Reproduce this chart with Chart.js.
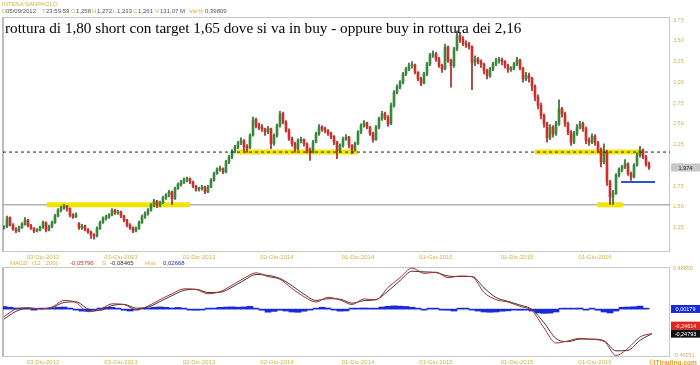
<!DOCTYPE html>
<html>
<head>
<meta charset="utf-8">
<script src="https://cdn.jsdelivr.net/npm/chart.js@4.4.0/dist/chart.umd.min.js"></script>
<style>
  body { margin: 0; width: 700px; height: 365px; background: #fff; position: relative; overflow: hidden; font-family: "Liberation Sans", Arial, sans-serif; }
  canvas { position: absolute; left: 0; }
  #priceChart { top: 0; }
  #macdChart { top: 257px; }
  .t { position: absolute; font-size: 6px; line-height: 1; white-space: nowrap; }
  .g { color: #d2b24c; }
  .d { color: #555; }
  #title { position: absolute; left: 5px; top: 20px; font-family: "Liberation Serif", "Times New Roman", serif; font-size: 15.2px; line-height: 15.2px; color: #000; white-space: nowrap; }
  #copy { position: absolute; left: 649px; top: 359px; font-size: 6.5px; font-weight: bold; color: #e0a030; white-space: nowrap; }
</style>
</head>
<body>
<canvas id="priceChart" width="700" height="262"></canvas>
<canvas id="macdChart" width="700" height="108"></canvas>

<div class="t g" style="left:2px;top:1px;">INTESA SANPAOLO</div>
<div class="t g" style="left:2px;top:8px;">D</div><div class="t d" style="left:6px;top:8px;">05/09/2012</div>
<div class="t g" style="left:42px;top:8px;">T</div><div class="t d" style="left:46px;top:8px;">23:59:59</div>
<div class="t g" style="left:71px;top:8px;">O</div><div class="t d" style="left:76px;top:8px;">1,258</div>
<div class="t g" style="left:92px;top:8px;">H</div><div class="t d" style="left:97px;top:8px;">1,272</div>
<div class="t g" style="left:113px;top:8px;">L</div><div class="t d" style="left:117px;top:8px;">1,233</div>
<div class="t g" style="left:133px;top:8px;">C</div><div class="t d" style="left:138px;top:8px;">1,261</div>
<div class="t g" style="left:155px;top:8px;">V</div><div class="t d" style="left:160px;top:8px;">131,07 M</div>
<div class="t g" style="left:189px;top:8px;">Var%</div><div class="t d" style="left:205px;top:8px;">0,39809</div>

<div id="title">rottura di 1,80 short con target 1,65 dove si va in buy - oppure buy in rottura dei 2,16</div>

<div class="t g" style="left:10px;top:260px;">MACD</div>
<div class="t g" style="left:32px;top:260px;">(12 , 200)</div>
<div class="t" style="left:70px;top:260px;color:#c83030;">-0,05796</div>
<div class="t g" style="left:102px;top:260px;">S</div>
<div class="t" style="left:110px;top:260px;color:#333;">-0,08465</div>
<div class="t g" style="left:145px;top:260px;">Hist</div>
<div class="t" style="left:163px;top:260px;color:#2030a0;">0,02668</div>
<div id="copy">©ITtrading.com</div>

<script>
// weekly candles from 03-Sep-2012, index = week number
const opens = [
  1.258,1.26,1.37,1.28,1.23,1.21,1.25,1.29,1.34,1.27,
  1.24,1.21,1.22,1.25,1.31,1.22,1.26,1.31,1.39,1.46,
  1.49,1.51,1.48,1.40,1.38,1.30,1.25,1.27,1.23,1.20,
  1.16,1.15,1.24,1.31,1.36,1.38,1.40,1.46,1.43,1.44,
  1.39,1.34,1.28,1.25,1.21,1.24,1.31,1.38,1.42,1.46,
  1.52,1.57,1.52,1.55,1.61,1.64,1.68,1.60,1.72,1.77,
  1.80,1.83,1.84,1.80,1.75,1.71,1.72,1.74,1.68,1.74,
  1.82,1.90,1.95,1.96,1.92,2.04,2.10,2.17,2.22,2.27,
  2.30,2.22,2.21,2.36,2.55,2.48,2.46,2.44,2.40,2.44,
  2.26,2.36,2.48,2.62,2.52,2.42,2.32,2.26,2.20,2.30,
  2.31,2.26,2.18,2.16,2.28,2.38,2.46,2.44,2.42,2.39,
  2.35,2.28,2.18,2.24,2.32,2.34,2.24,2.19,2.26,2.40,
  2.48,2.51,2.46,2.38,2.31,2.46,2.56,2.62,2.58,2.50,
  2.72,2.88,2.94,3.00,3.10,3.16,3.20,3.21,3.12,3.04,
  2.99,3.10,3.22,3.33,3.34,3.28,3.20,3.16,3.42,3.26,
  3.20,3.40,3.56,3.52,3.47,3.45,3.43,3.24,3.28,3.25,
  3.22,3.14,3.08,3.16,3.22,3.26,3.27,3.25,3.20,3.15,
  3.17,3.22,3.27,3.17,3.04,3.08,3.05,2.95,2.82,2.72,
  2.60,2.50,2.33,2.46,2.38,2.50,2.68,2.62,2.50,2.40,
  2.28,2.38,2.46,2.50,2.44,2.30,2.28,2.35,2.27,2.19,
  2.04,2.16,1.80,1.62,1.66,1.88,1.95,1.98,2.02,1.90,
  1.86,2.00,2.12,2.18,2.10,2.02
];
const highs = [
  1.272,1.39,1.38,1.30,1.25,1.27,1.31,1.37,1.35,1.29,
  1.25,1.24,1.27,1.33,1.32,1.28,1.33,1.41,1.48,1.51,
  1.53,1.52,1.49,1.42,1.43,1.31,1.29,1.28,1.24,1.21,
  1.18,1.26,1.33,1.38,1.40,1.42,1.48,1.47,1.46,1.45,
  1.40,1.35,1.30,1.26,1.26,1.33,1.40,1.44,1.48,1.54,
  1.59,1.58,1.57,1.63,1.66,1.70,1.69,1.74,1.79,1.82,
  1.85,1.86,1.85,1.81,1.76,1.74,1.76,1.75,1.76,1.84,
  1.92,1.97,1.99,1.97,2.06,2.12,2.19,2.24,2.29,2.33,
  2.31,2.25,2.38,2.58,2.57,2.51,2.49,2.45,2.47,2.45,
  2.38,2.50,2.65,2.64,2.54,2.44,2.34,2.28,2.32,2.34,
  2.32,2.27,2.21,2.30,2.40,2.49,2.48,2.46,2.43,2.40,
  2.36,2.29,2.26,2.34,2.37,2.35,2.25,2.28,2.42,2.50,
  2.54,2.52,2.47,2.40,2.48,2.58,2.65,2.64,2.60,2.75,
  2.90,2.97,3.02,3.12,3.18,3.23,3.25,3.22,3.13,3.06,
  3.12,3.24,3.35,3.38,3.36,3.30,3.22,3.46,3.44,3.28,
  3.42,3.62,3.60,3.55,3.50,3.48,3.44,3.32,3.30,3.27,
  3.23,3.16,3.18,3.24,3.29,3.30,3.29,3.26,3.22,3.19,
  3.24,3.30,3.28,3.18,3.12,3.11,3.06,2.97,2.85,2.75,
  2.62,2.52,2.49,2.48,2.53,2.79,2.70,2.64,2.52,2.42,
  2.41,2.49,2.53,2.52,2.46,2.33,2.38,2.37,2.29,2.21,
  2.26,2.18,1.82,1.70,1.90,1.97,2.00,2.07,2.03,1.92,
  2.02,2.15,2.23,2.20,2.12,2.04
];
const lows = [
  1.233,1.25,1.27,1.22,1.19,1.20,1.24,1.28,1.26,1.23,
  1.19,1.20,1.21,1.24,1.20,1.21,1.25,1.30,1.38,1.44,
  1.47,1.45,1.38,1.36,1.37,1.23,1.23,1.21,1.18,1.12,
  1.11,1.14,1.23,1.30,1.34,1.36,1.39,1.41,1.41,1.37,
  1.32,1.26,1.23,1.19,1.20,1.23,1.30,1.36,1.40,1.45,
  1.50,1.49,1.50,1.54,1.59,1.62,1.53,1.59,1.71,1.75,
  1.78,1.80,1.78,1.73,1.69,1.69,1.70,1.66,1.67,1.73,
  1.81,1.89,1.93,1.90,1.91,2.02,2.08,2.15,2.20,2.25,
  2.17,2.16,2.20,2.35,2.45,2.43,2.41,2.36,2.38,2.20,
  2.24,2.34,2.46,2.50,2.40,2.30,2.23,2.16,2.18,2.27,
  2.23,2.15,2.06,2.15,2.27,2.36,2.41,2.39,2.36,2.32,
  2.25,2.08,2.16,2.22,2.30,2.21,2.14,2.17,2.25,2.38,
  2.46,2.44,2.36,2.28,2.30,2.44,2.54,2.55,2.47,2.49,
  2.70,2.86,2.92,2.98,3.08,3.14,3.17,3.10,3.02,2.96,
  2.98,3.08,3.20,3.30,3.25,3.18,3.12,3.15,3.24,2.94,
  3.18,3.38,3.48,3.44,3.42,3.40,2.91,3.20,3.22,3.18,
  3.10,3.04,3.06,3.14,3.20,3.23,3.21,3.17,3.12,3.13,
  3.15,3.20,3.15,3.00,3.02,3.00,2.90,2.78,2.68,2.56,
  2.46,2.28,2.31,2.34,2.36,2.48,2.58,2.47,2.37,2.24,
  2.26,2.36,2.44,2.41,2.26,2.24,2.26,2.24,2.16,1.98,
  2.02,1.76,1.53,1.53,1.65,1.86,1.92,1.96,1.88,1.82,
  1.85,1.99,2.10,2.08,1.99,1.95
];
const closes = [
  1.261,1.37,1.28,1.23,1.21,1.25,1.29,1.34,1.27,1.24,
  1.21,1.22,1.25,1.31,1.22,1.26,1.31,1.39,1.46,1.49,
  1.51,1.48,1.40,1.38,1.41,1.25,1.27,1.23,1.20,1.16,
  1.15,1.24,1.31,1.36,1.38,1.40,1.46,1.43,1.44,1.39,
  1.34,1.28,1.25,1.21,1.24,1.31,1.38,1.42,1.46,1.52,
  1.57,1.52,1.55,1.61,1.64,1.68,1.60,1.72,1.77,1.80,
  1.83,1.84,1.80,1.75,1.71,1.72,1.74,1.68,1.74,1.82,
  1.90,1.95,1.96,1.92,2.04,2.10,2.17,2.22,2.27,2.30,
  2.22,2.21,2.36,2.55,2.48,2.46,2.44,2.40,2.44,2.26,
  2.36,2.48,2.62,2.52,2.42,2.32,2.26,2.20,2.30,2.31,
  2.26,2.18,2.16,2.28,2.38,2.46,2.44,2.42,2.39,2.35,
  2.28,2.18,2.24,2.32,2.34,2.24,2.19,2.26,2.40,2.48,
  2.51,2.46,2.38,2.31,2.46,2.56,2.62,2.58,2.50,2.72,
  2.88,2.94,3.00,3.10,3.16,3.20,3.21,3.12,3.04,2.99,
  3.10,3.22,3.33,3.34,3.28,3.20,3.16,3.42,3.26,3.20,
  3.40,3.56,3.52,3.47,3.45,3.43,3.24,3.28,3.25,3.22,
  3.14,3.08,3.16,3.22,3.26,3.27,3.25,3.20,3.15,3.17,
  3.22,3.27,3.17,3.04,3.08,3.05,2.95,2.82,2.72,2.60,
  2.50,2.33,2.46,2.38,2.50,2.68,2.62,2.50,2.40,2.28,
  2.38,2.46,2.50,2.44,2.30,2.28,2.35,2.27,2.19,2.04,
  2.16,1.80,1.62,1.66,1.88,1.95,1.98,2.02,1.90,1.86,
  2.00,2.12,2.18,2.10,2.02,1.974
];

// date labels and the week where each one falls
const dateLabels = ['03-Dic-2012', '03-Giu-2013', '02-Dic-2013', '02-Giu-2014', '01-Dic-2014', '01-Giu-2015', '01-Dic-2015', '01-Giu-2016'];
const labelWeeks = [13, 39, 65, 91, 118, 144, 171, 197];
const priceTicks = [1.25, 1.5, 1.75, 2.0, 2.25, 2.5, 2.75, 3.0, 3.25, 3.5, 3.75];

// drawn levels
const resistance = 2.16;
const support = 1.525;
const bandLevels = [1.525, 2.16, 2.16, 1.525];
const bandStarts = [14.3, 77.7, 177, 197.7];
const bandEnds = [62, 118, 213.3, 206.3];
const targetLevel = 1.80;
const targetStart = 205.7;
const targetEnd = 217;

// MACD (12, 200) and signal 9, one value every 4 weeks
const macdStep = 4;
const macdLine = [
  -0.058,0.029,0.043,0.029,0.051,0.124,0.102,-0.002,0.020,0.087,
  0.079,0.021,0.062,0.134,0.199,0.255,0.248,0.200,0.223,0.295,
  0.373,0.435,0.393,0.362,0.259,0.167,0.107,0.160,0.130,0.079,
  0.141,0.132,0.270,0.380,0.4885,0.428,0.442,0.380,0.399,0.391,
  0.214,0.134,0.107,0.058,0.010,-0.184,-0.353,-0.330,-0.300,-0.313,
  -0.334,-0.49251,-0.412,-0.285,-0.24614
];
const signalLine = [
  -0.085,0.002,0.039,0.033,0.044,0.102,0.109,0.029,0.013,0.067,
  0.081,0.038,0.050,0.112,0.179,0.238,0.250,0.214,0.216,0.273,
  0.350,0.416,0.406,0.371,0.290,0.195,0.125,0.144,0.139,0.094,
  0.122,0.135,0.229,0.347,0.453,0.445,0.438,0.399,0.393,0.393,
  0.267,0.158,0.115,0.073,0.024,-0.126,-0.302,-0.337,-0.309,-0.309,
  -0.328,-0.441,-0.435,-0.323,-0.24793
];
// histogram, one bar every 2 weeks
const histStep = 2;
const histValues = [
  0.027,0.02,0.012,0.009,0.002,-0.008,0.003,0.01,0.012,0.02,
  0.022,0.011,-0.01,-0.021,-0.022,-0.009,0.011,0.02,0.019,0.008,
  -0.012,-0.02,-0.01,0.009,0.013,0.02,0.023,0.019,0.012,0.018,
  0.01,-0.01,-0.012,-0.008,0.002,0.011,0.019,0.022,0.024,0.02,
  0.023,0.03,0.01,-0.012,-0.032,-0.024,-0.012,-0.02,-0.03,-0.033,
  -0.022,-0.01,0.01,0.02,0.012,-0.01,-0.021,-0.019,0.002,0.009,
  0.012,0.003,0.01,0.022,0.03,0.034,0.031,0.028,0.02,0.01,
  -0.008,0.01,0.002,-0.01,-0.012,-0.02,0.01,0.011,-0.008,-0.02,
  -0.03,-0.033,-0.03,-0.022,-0.018,-0.01,-0.012,-0.008,-0.02,-0.04,
  -0.044,-0.042,-0.03,0.01,0.003,0.01,0.012,-0.01,0.01,-0.012,
  -0.03,-0.04,-0.02,0.02,0.022,0.025,0.032,0.00179
];

const gold = '#d2b24c';
const tickFont = { family: '"Liberation Sans", Arial, sans-serif', size: 5.5 };
const dateFont = { family: '"Liberation Sans", Arial, sans-serif', size: 6 };
const xMin = -0.33;
const xMax = 222;

function comma(v, d) {
  return v.toFixed(d).replace('.', ',');
}

const candleColors = closes.map((c, i) => c >= opens[i] ? '#38893a' : '#cf2e2a');
const wickColors = closes.map((c, i) => c >= opens[i] ? '#2f6a30' : '#9c2a26');

function xAxis(h) {
  return {
    type: 'linear',
    min: xMin,
    max: xMax,
    offset: false,
    grid: { display: false, drawTicks: false },
    border: { display: false },
    afterBuildTicks: s => { s.ticks = labelWeeks.map(v => ({ value: v })); },
    afterFit: s => { s.height = h; },
    ticks: {
      autoSkip: false,
      maxRotation: 0,
      padding: 2,
      color: gold,
      font: dateFont,
      callback: v => dateLabels[labelWeeks.indexOf(v)]
    }
  };
}

const panelBox = {
  id: 'panelBox',
  beforeDatasetsDraw(chart) {
    const a = chart.chartArea;
    const ctx = chart.ctx;
    ctx.save();
    ctx.strokeStyle = '#c8c8c8';
    ctx.lineWidth = 1;
    ctx.strokeRect(a.left + 0.5, a.top + 0.5, a.width - 1, a.height - 1);
    ctx.fillStyle = '#bcbcbc';
    ctx.fillRect(a.left - 1, a.top, 2, a.height);
    ctx.restore();
  }
};

function valueBox(ctx, x, y, text, bg, fg) {
  ctx.fillStyle = bg;
  ctx.fillRect(x, y - 4, 700 - x, 8);
  ctx.fillStyle = fg;
  ctx.textAlign = 'center';
  ctx.textBaseline = 'middle';
  ctx.fillText(text, x + (700 - x) / 2, y + 0.5);
}

const lastPrice = {
  id: 'lastPrice',
  afterDraw(chart) {
    const ctx = chart.ctx;
    const y = chart.scales.y.getPixelForValue(closes[closes.length - 1]);
    ctx.save();
    ctx.font = '5.5px "Liberation Sans", Arial, sans-serif';
    valueBox(ctx, chart.chartArea.right + 1, y, comma(closes[closes.length - 1], 3), '#c8c8c8', '#222');
    ctx.restore();
  }
};

const bodyData = opens.map((o, i) => ({ x: i, y: [o, closes[i]] }));
const wickData = highs.map((h, i) => ({ x: i, y: [lows[i], h] }));

const priceDatasets = [
  {
    type: 'line',
    data: [{ x: xMin, y: resistance }, { x: xMax, y: resistance }],
    borderColor: '#222',
    borderWidth: 1,
    borderDash: [3, 3],
    pointRadius: 0,
    order: 1
  },
  {
    type: 'line',
    data: [{ x: targetStart, y: targetLevel }, { x: targetEnd, y: targetLevel }],
    borderColor: '#2a55cc',
    borderWidth: 2,
    pointRadius: 0,
    order: 1
  },
  {
    type: 'bar',
    data: bodyData,
    backgroundColor: candleColors,
    barThickness: 2,
    grouped: false,
    minBarLength: 1,
    order: 2
  },
  {
    type: 'bar',
    data: wickData,
    backgroundColor: wickColors,
    barThickness: 1,
    grouped: false,
    order: 3
  },
  {
    type: 'line',
    data: [{ x: xMin, y: support }, { x: xMax, y: support }],
    borderColor: '#8c8c8c',
    borderWidth: 1,
    pointRadius: 0,
    order: 6
  }
];
bandLevels.forEach((lv, i) => {
  priceDatasets.push({
    type: 'line',
    data: [{ x: bandStarts[i], y: lv }, { x: bandEnds[i], y: lv }],
    borderColor: '#f2e400',
    borderWidth: 5,
    borderCapStyle: 'butt',
    pointRadius: 0,
    order: 4
  });
});

new Chart(document.getElementById('priceChart'), {
  type: 'bar',
  data: { datasets: priceDatasets },
  options: {
    responsive: false,
    animation: false,
    layout: { padding: { left: 3, top: 17, right: 0, bottom: 0 } },
    plugins: { legend: { display: false }, tooltip: { enabled: false } },
    scales: {
      x: xAxis(10),
      y: {
        position: 'right',
        min: 0.957,
        max: 3.786,
        grid: { display: false, drawTicks: false },
        border: { display: false },
        afterBuildTicks: s => { s.ticks = priceTicks.map(v => ({ value: v })); },
        afterFit: s => { s.width = 30; },
        ticks: { padding: 3, color: gold, font: tickFont, callback: v => comma(v, 2) }
      }
    }
  },
  plugins: [panelBox, lastPrice]
});

const macdLabels = {
  id: 'macdLabels',
  afterDraw(chart) {
    const ctx = chart.ctx;
    const a = chart.chartArea;
    const n = macdLine.length - 1;
    ctx.save();
    ctx.font = '5.5px "Liberation Sans", Arial, sans-serif';
    ctx.textBaseline = 'middle';
    ctx.fillStyle = gold;
    ctx.fillText(comma(Math.max(...macdLine), 5), a.right + 3, a.top + 1);
    ctx.fillText(comma(Math.min(...macdLine), 5), a.right + 3, a.bottom - 2);
    const yHist = chart.scales.yh.getPixelForValue(histValues[histValues.length - 1]);
    const ySig = chart.scales.y.getPixelForValue(signalLine[n]);
    const yMacd = Math.min(chart.scales.y.getPixelForValue(macdLine[n]), ySig - 8);
    valueBox(ctx, a.right + 1, yHist, comma(histValues[histValues.length - 1], 5), '#1a2ad8', '#fff');
    valueBox(ctx, a.right + 1, yMacd, comma(macdLine[n], 5), '#e8201a', '#fff');
    valueBox(ctx, a.right + 1, ySig, comma(signalLine[n], 5), '#111', '#fff');
    ctx.restore();
  }
};

new Chart(document.getElementById('macdChart'), {
  type: 'bar',
  data: {
    datasets: [
      {
        type: 'line',
        data: macdLine.map((v, k) => ({ x: k * macdStep, y: v })),
        borderColor: '#a83232',
        borderWidth: 1,
        pointRadius: 0,
        cubicInterpolationMode: 'monotone',
        order: 1
      },
      {
        type: 'line',
        data: signalLine.map((v, k) => ({ x: k * macdStep, y: v })),
        borderColor: '#3a3a3a',
        borderWidth: 1,
        pointRadius: 0,
        cubicInterpolationMode: 'monotone',
        order: 2
      },
      {
        type: 'bar',
        yAxisID: 'yh',
        data: histValues.map((v, j) => ({ x: j * histStep, y: v })),
        backgroundColor: '#1a2ad8',
        barThickness: 6,
        minBarLength: 1,
        grouped: false,
        order: 3
      }
    ]
  },
  options: {
    responsive: false,
    animation: false,
    layout: { padding: { left: 3, top: 10, right: 0, bottom: 0 } },
    plugins: { legend: { display: false }, tooltip: { enabled: false } },
    scales: {
      x: xAxis(8),
      y: {
        position: 'right',
        min: -0.51,
        max: 0.50,
        grid: { display: false, drawTicks: false },
        border: { display: false },
        ticks: { display: false },
        afterFit: s => { s.width = 30; }
      },
      yh: {
        display: false,
        min: -0.5,
        max: 0.44
      }
    }
  },
  plugins: [panelBox, macdLabels]
});
</script>
</body>
</html>
